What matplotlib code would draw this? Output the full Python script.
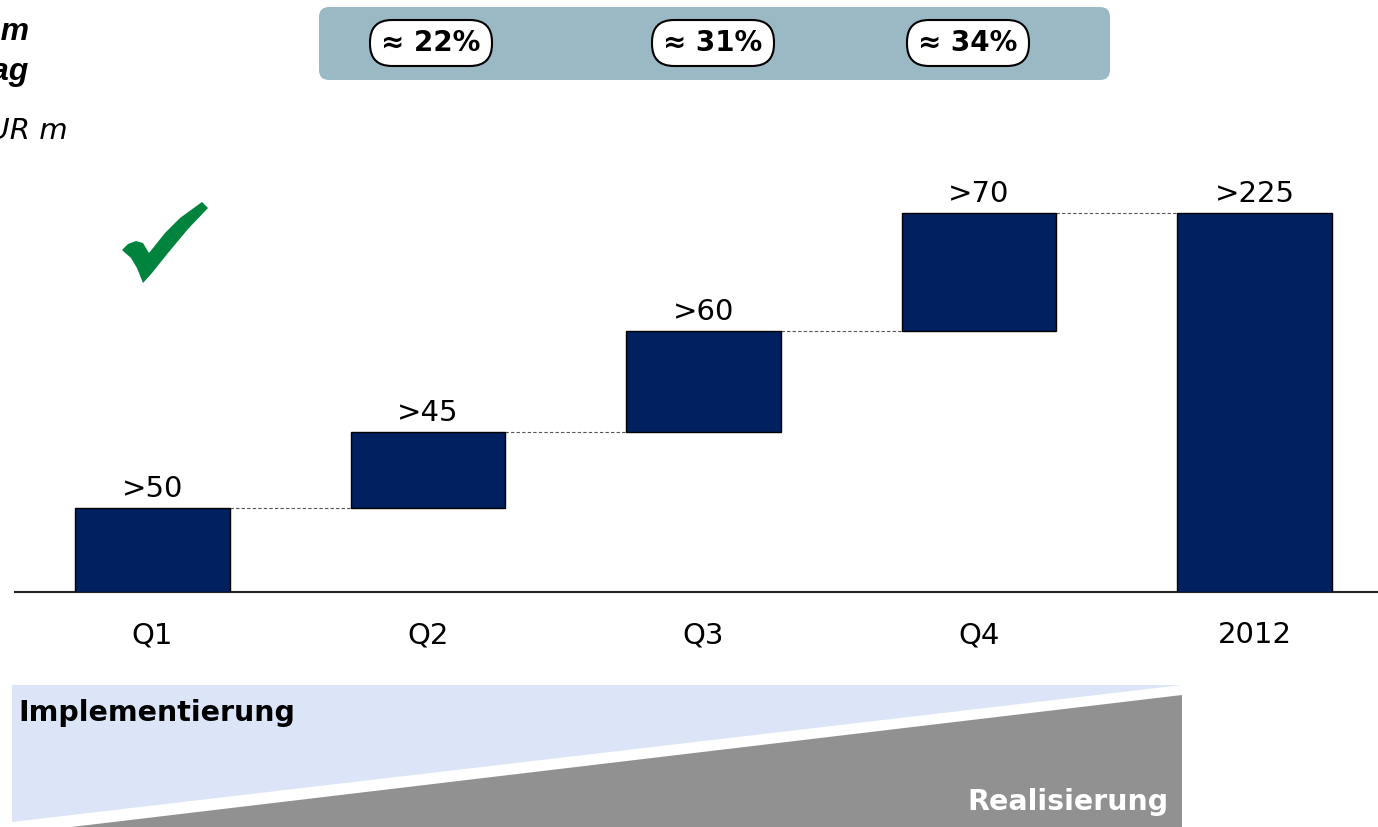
import matplotlib
matplotlib.use("Agg")
import matplotlib.pyplot as plt
from matplotlib.patches import FancyBboxPatch, Polygon

plt.rcParams['font.family'] = ['DejaVu Sans']

# Quarterly contributions and full-year total (EUR m)
categories = ["Q1", "Q2", "Q3", "Q4", "2012"]
increments = [50, 45, 60, 70]
total = 225
value_labels = [">50", ">45", ">60", ">70", ">225"]
shares = ["≈ 22%", "≈ 31%", "≈ 34%"]

W, H = 1378, 827
fig = plt.figure(figsize=(W / 100, H / 100), dpi=100)

# overlay in pixel units (origin top-left) for the decorations
ov = fig.add_axes([0, 0, 1, 1], zorder=0)
ov.set_xlim(0, W)
ov.set_ylim(H, 0)
ov.axis("off")

# main waterfall axes
ax = fig.add_axes([15 / W, 1 - 592 / H, (W - 15) / W, 442 / H], zorder=1)
navy = "#002060"
bw = 0.5626
bottoms = []
run = 0
for v in increments:
    bottoms.append(run)
    run += v
heights = increments + [total]
bottoms.append(0)
xs = list(range(len(categories)))
ax.bar(xs, heights, bottom=bottoms, width=bw, color=navy, edgecolor="black", linewidth=1, zorder=3)

tops = [b + h for b, h in zip(bottoms, heights)]
for i, (x, t) in enumerate(zip(xs, tops)):
    ax.annotate(value_labels[i], (x, t), xytext=(0, 8), textcoords="offset points",
                ha="center", va="baseline", fontsize=21)
    if i < len(xs) - 1:
        ax.plot([x + bw / 2, xs[i + 1] - bw / 2], [t, t], ls=(0, (3, 2)), color="#555555", lw=0.8, zorder=2)

ax.set_xlim((15 - 152.5) / 275.5, (1378 - 152.5) / 275.5)
ax.set_ylim(0, 442 / (379 / total))
ax.set_xticks(xs)
ax.set_xticklabels(categories, fontsize=21)
ax.tick_params(axis="x", length=0, pad=21)
ax.set_yticks([])
for s in ["top", "left", "right"]:
    ax.spines[s].set_visible(False)
ax.spines["bottom"].set_linewidth(1.5)
ax.spines["bottom"].set_color("#222222")
ax.patch.set_alpha(0)

# header texts, partly running off the left edge
ov.text(30, 32, "Programm", fontsize=23, fontweight="bold", style="italic", ha="right", va="center",
        family="Liberation Sans")
ov.text(29, 72, "Ergebnisbeitrag", fontsize=23, fontweight="bold", style="italic", ha="right", va="center",
        family="Liberation Sans")
ov.text(68, 131, "EUR m", fontsize=21, style="italic", ha="right", va="center")

# share box across the top
ov.add_patch(FancyBboxPatch((319, 7), 791, 73, boxstyle="round,pad=0,rounding_size=10",
                            facecolor="#9BB8C5", edgecolor="none"))
for cx, txt in zip([431, 713, 968], shares):
    ov.add_patch(FancyBboxPatch((cx - 61, 20), 122, 46, boxstyle="round,pad=0,rounding_size=22",
                                facecolor="white", edgecolor="black", linewidth=1.5))
    ov.text(cx, 43, txt, fontsize=20, fontweight="bold", ha="center", va="center")

# check mark
check = [(122, 250), (128, 244), (136, 241), (143, 243), (149, 253), (165, 233), (180, 218),
         (202, 202), (208, 208), (188, 229), (168, 253), (152, 273), (143, 283), (137, 268),
         (131, 258)]
ov.add_patch(Polygon(check, closed=True, facecolor="#00843D", edgecolor="none"))

# implementation / realisation band
ov.add_patch(Polygon([(12, 685), (1182, 685), (12, 822)], closed=True, facecolor="#DCE5F8", edgecolor="none"))
ov.add_patch(Polygon([(1182, 695), (1182, 828), (63, 828)], closed=True, facecolor="#919191", edgecolor="none"))
ov.text(18, 713, "Implementierung", fontsize=20.5, fontweight="bold", ha="left", va="center")
ov.text(1169, 802, "Realisierung", fontsize=20.5, fontweight="bold", color="white", ha="right", va="center")

fig.savefig("out.png", dpi=100)
